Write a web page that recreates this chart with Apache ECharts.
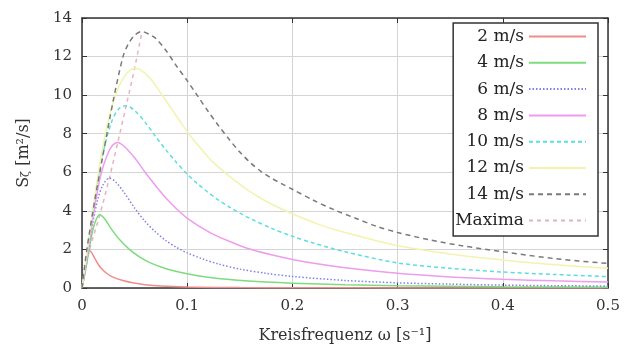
<!DOCTYPE html>
<html>
<head>
<meta charset="utf-8">
<script src="https://cdn.jsdelivr.net/npm/echarts@6/dist/echarts.min.js"></script>
<style>
html,body{margin:0;padding:0;background:#fff;}
#chart{width:629px;height:348px;}
</style>
</head>
<body>
<div id="chart"></div>
<script>
// ---- data ----
const seriesNames = ['2 m/s', '4 m/s', '6 m/s', '8 m/s', '10 m/s', '12 m/s', '14 m/s', 'Maxima'];
const xTicks = [0, 0.1, 0.2, 0.3, 0.4, 0.5];
const yTicks = [0, 2, 4, 6, 8, 10, 12, 14];

const omega2 = [0, 0.002, 0.004, 0.0055, 0.007, 0.009, 0.012, 0.016, 0.02, 0.025, 0.03, 0.038, 0.048, 0.06, 0.075, 0.1, 0.15, 0.2, 0.3, 0.5];
const s2     = [0, 0.6, 1.35, 1.8, 1.95, 1.85, 1.55, 1.18, 0.92, 0.7, 0.55, 0.4, 0.27, 0.17, 0.1, 0.05, 0.02, 0.01, 0.005, 0.002];

const omega4 = [0, 0.004, 0.008, 0.012, 0.017, 0.022, 0.028, 0.035, 0.045, 0.055, 0.065, 0.08, 0.1, 0.12, 0.145, 0.175, 0.2, 0.25, 0.3, 0.4, 0.5];
const s4     = [0, 1.1, 2.4, 3.35, 3.8, 3.55, 3.05, 2.55, 2.0, 1.6, 1.3, 1.0, 0.74, 0.56, 0.42, 0.31, 0.25, 0.17, 0.12, 0.07, 0.045];

const omega6 = [0, 0.005, 0.01, 0.015, 0.02, 0.026, 0.032, 0.04, 0.05, 0.06, 0.07, 0.08, 0.09, 0.1, 0.115, 0.13, 0.15, 0.175, 0.2, 0.25, 0.3, 0.35, 0.4, 0.45, 0.5];
const s6     = [0, 1.6, 3.3, 4.6, 5.35, 5.7, 5.5, 4.95, 4.15, 3.45, 2.9, 2.45, 2.1, 1.82, 1.5, 1.24, 0.98, 0.76, 0.6, 0.39, 0.27, 0.2, 0.15, 0.12, 0.1];

const omega8 = [0, 0.006, 0.012, 0.018, 0.024, 0.029, 0.034, 0.04, 0.05, 0.06, 0.07, 0.08, 0.09, 0.1, 0.11, 0.125, 0.14, 0.157, 0.18, 0.2, 0.225, 0.25, 0.3, 0.35, 0.4, 0.45, 0.5];
const s8     = [0, 2.0, 4.2, 5.9, 6.9, 7.4, 7.55, 7.35, 6.75, 6.0, 5.3, 4.65, 4.1, 3.62, 3.25, 2.78, 2.42, 2.06, 1.72, 1.48, 1.24, 1.05, 0.76, 0.57, 0.45, 0.37, 0.31];

const omega10 = [0, 0.006, 0.012, 0.02, 0.028, 0.035, 0.042, 0.05, 0.06, 0.07, 0.08, 0.09, 0.1, 0.11, 0.12, 0.13, 0.14, 0.15, 0.16, 0.18, 0.2, 0.22, 0.25, 0.3, 0.35, 0.4, 0.45, 0.5];
const s10     = [0, 2.2, 4.6, 7.0, 8.6, 9.3, 9.45, 9.2, 8.6, 7.85, 7.15, 6.5, 5.9, 5.4, 4.95, 4.55, 4.2, 3.88, 3.6, 3.1, 2.68, 2.33, 1.88, 1.3, 1.02, 0.83, 0.7, 0.59];

const omega12 = [0, 0.006, 0.012, 0.02, 0.03, 0.04, 0.05, 0.056, 0.065, 0.075, 0.085, 0.095, 0.105, 0.115, 0.125, 0.14, 0.157, 0.175, 0.2, 0.225, 0.25, 0.3, 0.35, 0.4, 0.45, 0.5];
const s12     = [0, 2.3, 4.7, 7.4, 9.7, 10.95, 11.4, 11.3, 10.85, 10.1, 9.3, 8.5, 7.75, 7.1, 6.5, 5.8, 5.1, 4.5, 3.85, 3.3, 2.88, 2.2, 1.76, 1.45, 1.2, 1.02];

const omega14 = [0, 0.0045, 0.012, 0.02, 0.03, 0.039, 0.044, 0.05, 0.057, 0.064, 0.07, 0.08, 0.09, 0.1, 0.11, 0.12, 0.13, 0.14, 0.15, 0.16, 0.17, 0.18, 0.19, 0.2, 0.22, 0.24, 0.26, 0.28, 0.3, 0.33, 0.36, 0.4, 0.45, 0.5];
const s14     = [0, 1.95, 4.5, 6.9, 9.8, 12.0, 12.65, 13.1, 13.3, 13.15, 12.95, 12.3, 11.5, 10.75, 9.95, 9.15, 8.4, 7.7, 7.05, 6.5, 6.05, 5.7, 5.4, 5.12, 4.55, 4.05, 3.62, 3.2, 2.88, 2.5, 2.2, 1.88, 1.52, 1.27];

const omegaMax = [0, 0.007, 0.017, 0.026, 0.034, 0.042, 0.05, 0.057];
const sMax     = [0, 1.95, 3.8, 5.7, 7.55, 9.45, 11.4, 13.3];

// ---- styling ----
const xs = [omega2, omega4, omega6, omega8, omega10, omega12, omega14, omegaMax];
const ys = [s2, s4, s6, s8, s10, s12, s14, sMax];
const colors = ['#ef8c8c', '#7ddc7d', '#7f7fee', '#ee9cee', '#5ddede', '#f3f3b0', '#7a7a7a', '#e6b2bc'];
const dashes = ['solid', 'solid', [1.5, 2], 'solid', [4, 3], 'solid', [5, 4], [4, 4]];
const FONT = 'DejaVu Serif';

const series = seriesNames.map((name, i) => ({
  name: name,
  type: 'line',
  xAxisIndex: 0,
  yAxisIndex: 0,
  data: xs[i].map((x, j) => [x, ys[i][j]]),
  symbol: 'none',
  smooth: 0.3,
  z: i === 7 ? 5 : 10,
  lineStyle: { color: colors[i], width: 1.5, type: dashes[i] },
  itemStyle: { color: colors[i] }
}));

const axisLineStyle = { color: '#333', width: 1.5 };
const chart = echarts.init(document.getElementById('chart'), null, { renderer: 'canvas' });
chart.setOption({
  animation: false,
  backgroundColor: '#fff',
  grid: { left: 82, right: 21, top: 18, bottom: 60, containLabel: false, outerBoundsMode: 'none' },
  xAxis: [{
    type: 'value', min: xTicks[0], max: xTicks[xTicks.length - 1], interval: 0.1, position: 'bottom',
    axisLine: { show: true, onZero: false, lineStyle: axisLineStyle },
    axisTick: { show: true, inside: true, length: 5, lineStyle: { color: '#333' } },
    axisLabel: { color: '#333', fontFamily: FONT, fontSize: 15, margin: 11,
      formatter: v => String(Math.round(v * 10) / 10) },
    splitLine: { show: true, lineStyle: { color: '#d4d4d4', width: 1 } },
    name: 'Kreisfrequenz ω [s⁻¹]', nameLocation: 'middle', nameGap: 40,
    nameTextStyle: { color: '#333', fontFamily: FONT, fontSize: 16 }
  }, {
    type: 'value', min: 0, max: 0.5, interval: 0.1, position: 'top',
    axisLine: { show: true, onZero: false, lineStyle: axisLineStyle },
    axisTick: { show: true, inside: true, length: 5, lineStyle: { color: '#333' } },
    axisLabel: { show: false }, splitLine: { show: false }
  }],
  yAxis: [{
    type: 'value', min: yTicks[0], max: yTicks[yTicks.length - 1], interval: 2, position: 'left',
    axisLine: { show: true, onZero: false, lineStyle: axisLineStyle },
    axisTick: { show: true, inside: true, length: 5, lineStyle: { color: '#333' } },
    axisLabel: { color: '#333', fontFamily: FONT, fontSize: 15, margin: 10 },
    splitLine: { show: true, lineStyle: { color: '#d4d4d4', width: 1 } },
    name: '{t|S}{s|ζ}{t| [m²/s]}', nameLocation: 'middle', nameGap: 50, nameRotate: 90,
    nameTextStyle: { color: '#333', fontFamily: FONT, fontSize: 16,
      rich: { t: { fontFamily: FONT, fontSize: 16, color: '#333' },
              s: { fontFamily: FONT, fontSize: 11, color: '#333', verticalAlign: 'bottom', padding: [6, 0, 0, 0] } } }
  }, {
    type: 'value', min: 0, max: 14, interval: 2, position: 'right',
    axisLine: { show: true, onZero: false, lineStyle: axisLineStyle },
    axisTick: { show: true, inside: true, length: 5, lineStyle: { color: '#333' } },
    axisLabel: { show: false }, splitLine: { show: false }
  }],
  legend: {
    data: seriesNames,
    orient: 'vertical',
    align: 'right',
    right: 31,
    top: 23,
    itemWidth: 57,
    itemHeight: 10,
    itemGap: 9.3,
    padding: [5, 11, 7, 2],
    backgroundColor: '#fff',
    borderColor: '#333',
    borderWidth: 1.5,
    borderRadius: 0,
    itemStyle: { opacity: 0 },
    textStyle: { color: '#222', fontFamily: FONT, fontSize: 17 },
    z: 20
  },
  series: series
});
</script>
</body>
</html>
